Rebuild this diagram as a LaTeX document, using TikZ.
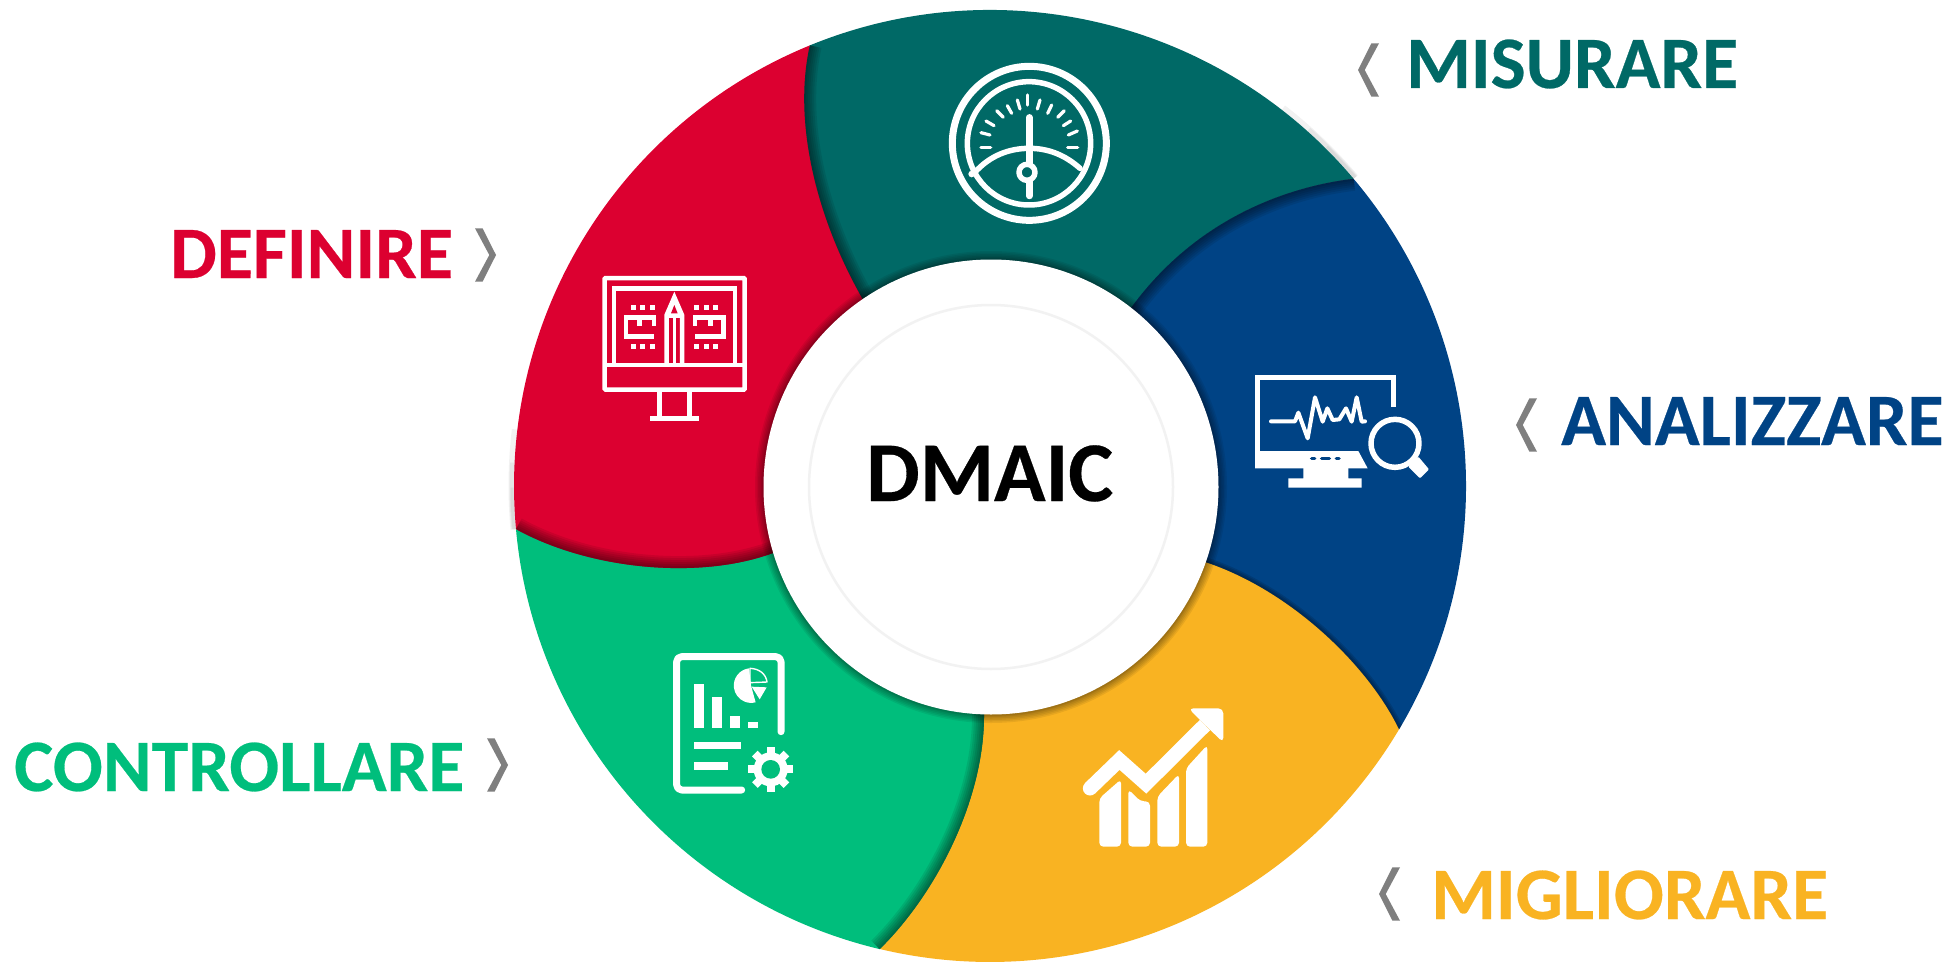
\documentclass[tikz,border=0pt]{standalone}
\usepackage{fontspec}
\setmainfont[BoldFeatures={FakeBold=0.35}]{Carlito}
\definecolor{cTeal}{HTML}{006966}
\definecolor{cBlue}{HTML}{004385}
\definecolor{cYellow}{HTML}{F9B322}
\definecolor{cGreen}{HTML}{00BE7C}
\definecolor{cRed}{HTML}{DC0030}
\definecolor{cChev}{HTML}{7F7F7F}
\tikzset{
  lab/.style={anchor=base west,inner sep=0pt,font=\bfseries\fontsize{74}{74}\selectfont},
  ico/.style={white,line cap=round,line join=round},
  icb/.style={white,line cap=butt,line join=miter},
}
% boundaries: outer -> inner, and inner -> outer
\def\bRT{.. controls (793,120) and (815,215) .. (862,298) -- (878,322)}
\def\bRTr{-- (878,322) -- (862,298) .. controls (815,215) and (793,120) .. (809.8,45.4)}
\def\bTB{.. controls (1285,187) and (1195,220) .. (1131,308) -- (1115,332)}
\def\bTBr{-- (1115,332) -- (1131,308) .. controls (1195,220) and (1285,187) .. (1353.6,178.8)}
\def\bBY{.. controls (1368,665) and (1290,590) .. (1205,562) -- (1175,552)}
\def\bBYr{-- (1175,552) -- (1205,562) .. controls (1290,590) and (1368,665) .. (1399,729.4)}
\def\bYG{.. controls (935,895) and (985,800) .. (984,713) -- (984,685)}
\def\bYGr{-- (984,685) -- (984,713) .. controls (985,800) and (935,895) .. (879.7,949.1)}
\def\bGR{.. controls (590,570) and (700,580) .. (773,553) -- (805,541)}
\def\bGRr{-- (805,541) -- (773,553) .. controls (700,580) and (590,570) .. (516,529.1)}
% regions
\def\regT{(809.8,45.4) arc[start angle=247.75,end angle=319.8,radius=476] \bTB \bRTr -- cycle}
\def\regB{(1353.6,178.8) arc[start angle=319.8,end angle=390.76,radius=476] \bBY \bTBr -- cycle}
\def\regY{(1399,729.4) arc[start angle=30.76,end angle=103.4,radius=476] \bYG \bBYr -- cycle}
\def\regG{(879.7,949.1) arc[start angle=103.4,end angle=174.8,radius=476] \bGR \bYGr -- cycle}
\def\regR{(516,529.1) arc[start angle=174.8,end angle=247.75,radius=476] \bRT \bGRr -- cycle}
\newcommand{\edgeshadow}[2]{%
  \begin{scope}\clip #1;
    \foreach \w in {24,20,16,12,8,4}{\draw[black,opacity=.085,line width=\w pt] #2;}
  \end{scope}}
\newcommand{\chevL}[2]{\fill[cChev,shift={(#1,#2)}] (0,0) -- (13.4,-26.7) -- (21,-26.7) -- (6.7,0) -- (21,26.7) -- (13.4,26.7) -- cycle;}
\newcommand{\chevR}[2]{\fill[cChev,shift={(#1,#2)}] (0,0) -- (-13.4,-26.7) -- (-21,-26.7) -- (-6.7,0) -- (-21,26.7) -- (-13.4,26.7) -- cycle;}
\begin{document}
\begin{tikzpicture}[x=1pt,y=1pt,yscale=-1]
\useasboundingbox (0,0) rectangle (1960,966);
\fill[white] (0,0) rectangle (1960,966);
% soft fringe on white at the outer rim
\begin{scope}[shift={(990,486)}]
\foreach \w/\a in {7/12,5/8,3/5}{
  \draw[black,opacity=.05,line width=\w pt] (319.8-\a:478) arc[start angle=319.8-\a,end angle=319.8,radius=478];
  \draw[black,opacity=.05,line width=\w pt] (174.8:478) arc[start angle=174.8,end angle=174.8+\a,radius=478];
}
\end{scope}
\fill[gray!70!black] (990,486) circle[radius=475];
% segments
\fill[cTeal] \regT;
\fill[cBlue] \regB;
\fill[cYellow] \regY;
\fill[cGreen] \regG;
\fill[cRed] \regR;
% shadows between segments
\edgeshadow{\regT}{(809.8,45.4) \bRT}
\edgeshadow{\regB}{(1353.6,178.8) \bTB}
\edgeshadow{\regG}{(879.7,949.1) \bYG}
\edgeshadow{\regR}{(516,529.1) \bGR}
\begin{scope}\clip \regB;
  \foreach \w in {10,7,4}{\draw[black,opacity=.12,line width=\w pt] (1399,729.4) \bBY;}
\end{scope}
% centre
\foreach \r in {236,234.5,233,231.5,230,229}{\fill[black,opacity=.07] (991,487) circle[radius=\r];}
\fill[white] (991,487) circle[radius=227.5];
\draw[black!5,line width=2.5pt] (991,487) circle[radius=182];
\node[anchor=base west,inner sep=0pt,font=\bfseries\fontsize{85}{85}\selectfont,text=black] (dmaic) at (866,501) {DMAIC};
% labels
\node[lab,text=cTeal]   (misurare)    at (1406,88)  {MISURARE};
\node[lab,text=cBlue]   (analizzare)  at (1561,445) {ANALIZZARE};
\node[lab,text=cYellow] (migliorare)  at (1431,919) {MIGLIORARE};
\node[lab,text=cRed]    (definire)    at (170,278)  {DEFINIRE};
\node[lab,text=cGreen]  (controllare) at (14,791)   {CONTROLLARE};
\chevL{1358}{70}
\chevL{1516}{425}
\chevL{1379}{894}
\chevR{496}{255}
\chevR{508}{765}
% gauge icon
\begin{scope}[shift={(900,40)},scale=1/3]
  \draw[ico,line width=7pt] (388,310) circle[radius=231];
  \draw[ico,line width=5.5pt] (387,310) circle[radius=185];
  \draw[ico,line width=5.5pt] (222,400) .. controls (270,345) and (330,325) .. (388,325) .. controls (445,325) and (495,345) .. (540,385);
  \fill[white] (215,402) circle[radius=10];
  \draw[ico,line width=6.5pt] (388,232) -- (388,468);
  \draw[ico,line width=5.5pt,fill=cTeal] (381,397) circle[radius=24];
  \foreach \xa/\ya/\xb/\yb in {243/322/272/322,243/278/270/285,258/243/282/257,290/212/310/232,322/197/335/220,352/180/360/207,383/165/383/195,420/180/412/207,455/195/443/220,493/212/473/232,512/243/490/257,532/273/505/285,503/322/533/322}
    \draw[ico,line width=3.2pt] (\xa,\ya) -- (\xb,\yb);
\end{scope}
% monitor icon
\begin{scope}[shift={(580,260)},scale=1/3]
  \draw[icb,line width=4.5pt,rounded corners=1pt] (74,54) rectangle (494,389);
  \draw[icb,line width=4.5pt] (74,315) -- (494,315);
  \draw[icb,line width=4.5pt] (102,315) -- (102,85) -- (465,85) -- (465,315);
  \draw[icb,line width=4.5pt] (238,395) -- (238,470) (328,395) -- (328,470);
  \draw[icb,line width=5pt] (210,475) -- (356,475);
  \draw[icb,line width=4.5pt] (260,315) -- (260,165) -- (283,112) -- (306,165) -- (306,315);
  \draw[icb,line width=3pt] (283,315) -- (283,172);
  \draw[icb,line width=3pt] (260,168) -- (306,168);
  \fill[white] (262,165) -- (283,112) -- (304,165) -- cycle;
  \fill[cRed] (273,160) -- (283,135) -- (293,160) -- cycle;
  \draw[icb,line width=4.5pt] (222,197) -- (222,172) -- (138,172) -- (138,230) -- (222,230);
  \draw[icb,line width=5pt] (178,172) -- (178,197);
  \draw[icb,line width=4.5pt] (345,197) -- (345,172) -- (430,172) -- (430,230) -- (345,230);
  \draw[icb,line width=5pt] (390,172) -- (390,197);
  \foreach \x in {160,188,217,350,378,407}\foreach \y in {143,258}
    \fill[white] (\x-7.5,\y-7.5) rectangle (\x+7.5,\y+7.5);
\end{scope}
% analysis icon
\begin{scope}[shift={(1240,360)},scale=1/3]
  \draw[icb,line width=5pt] (460,140) -- (460,52) -- (52,52) -- (52,280);
  \fill[white] (45,273) -- (355,273) -- (383,325) -- (45,325) -- cycle;
  \fill[white] (190,320) -- (325,320) -- (325,355) -- (365,355) -- (365,383) -- (145,383) -- (145,355) -- (190,355) -- cycle;
  \draw[cBlue,line width=3.5pt,line cap=round] (215,295) -- (224,295) (245,295) -- (268,295) (289,295) -- (297,295);
  \draw[ico,line width=4pt] (93,184) -- (165,184) -- (175,158) -- (203,235) -- (225,112) -- (248,185) -- (262,145) -- (278,180) -- (298,178) -- (318,145) -- (335,185) -- (350,112) -- (365,185) -- (375,184);
  \draw[ico,line width=5.5pt] (465,250) circle[radius=72];
  \fill[white,rounded corners=1pt] (505,320) -- (535,290) -- (567,328) -- (540,355) -- cycle;
\end{scope}
% growth icon
\begin{scope}[shift={(1060,690)},scale=1/3]
  \draw[white,line width=14.5pt,line cap=butt,line join=miter] (90,295) -- (178,210) -- (258,281) -- (435,105);
  \fill[white] (90,295) circle[radius=21.5];
  \fill[white,rounded corners=5pt] (385,55) -- (490,55) -- (490,158) -- cycle;
  \fill[white,rounded corners=4pt] (118,470) -- (118,325) -- (183,268) -- (183,470) -- cycle;
  \fill[white,rounded corners=4pt] (205,470) -- (205,298) -- (240,333) -- (270,335) -- (270,470) -- cycle;
  \fill[white,rounded corners=4pt] (292,470) -- (292,320) -- (357,252) -- (357,470) -- cycle;
  \fill[white,rounded corners=4pt] (378,470) -- (378,235) -- (442,165) -- (442,470) -- cycle;
\end{scope}
% report icon
\begin{scope}[shift={(650,640)},scale=1/3]
  \draw[ico,line width=7pt,rounded corners=5pt] (393,275) -- (393,50) -- (80,50) -- (80,450) -- (275,450);
  \fill[white] (133,132) rectangle (163,265);
  \fill[white] (187,172) rectangle (217,265);
  \fill[white] (240,227) rectangle (270,265);
  \fill[white] (293,245) rectangle (323,265);
  \fill[white] (133,307) rectangle (273,328);
  \fill[white] (133,367) rectangle (233,390);
  \fill[white] (297,85) arc[start angle=-97,end angle=-285,radius=52] -- (303,136) -- cycle;
  \fill[white] (305,140) -- (350,142) -- (329,178) -- cycle;
  \draw[white,line width=1.4pt,line join=round] (300,128) -- (300,85) .. controls (328,86) and (348,102) .. (351,126) -- cycle;
  \foreach \a in {0,45,...,315}\draw[white,line width=8pt] (362,388) ++(\a:40) -- ++(\a:27);
  \fill[white] (362,388) circle[radius=51];
  \fill[cGreen] (362,388) circle[radius=28];
\end{scope}
\end{tikzpicture}
\end{document}
